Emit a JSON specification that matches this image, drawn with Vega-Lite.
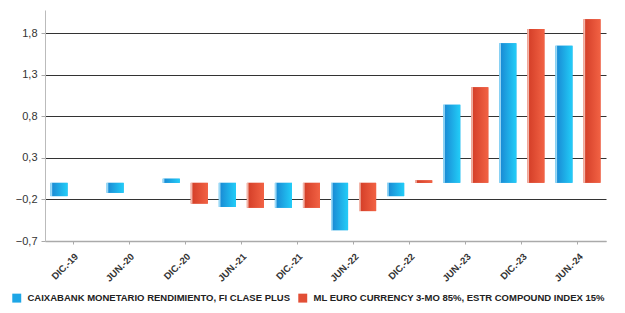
{
  "$schema": "https://vega.github.io/schema/vega-lite/v6.json",
  "autosize": {"type": "none"},
  "width": 561,
  "height": 231,
  "padding": {"left": 45, "top": 10, "right": 19, "bottom": 72},
  "background": "white",
  "data": {
    "values": [
      {"periodo": "DIC.-19", "serie": "CAIXABANK MONETARIO RENDIMIENTO, FI CLASE PLUS", "valor": -0.16},
      {"periodo": "JUN.-20", "serie": "CAIXABANK MONETARIO RENDIMIENTO, FI CLASE PLUS", "valor": -0.12},
      {"periodo": "DIC.-20", "serie": "CAIXABANK MONETARIO RENDIMIENTO, FI CLASE PLUS", "valor": 0.05},
      {"periodo": "DIC.-20", "serie": "ML EURO CURRENCY 3-MO 85%, ESTR COMPOUND INDEX 15%", "valor": -0.25},
      {"periodo": "JUN.-21", "serie": "CAIXABANK MONETARIO RENDIMIENTO, FI CLASE PLUS", "valor": -0.29},
      {"periodo": "JUN.-21", "serie": "ML EURO CURRENCY 3-MO 85%, ESTR COMPOUND INDEX 15%", "valor": -0.3},
      {"periodo": "DIC.-21", "serie": "CAIXABANK MONETARIO RENDIMIENTO, FI CLASE PLUS", "valor": -0.3},
      {"periodo": "DIC.-21", "serie": "ML EURO CURRENCY 3-MO 85%, ESTR COMPOUND INDEX 15%", "valor": -0.3},
      {"periodo": "JUN.-22", "serie": "CAIXABANK MONETARIO RENDIMIENTO, FI CLASE PLUS", "valor": -0.57},
      {"periodo": "JUN.-22", "serie": "ML EURO CURRENCY 3-MO 85%, ESTR COMPOUND INDEX 15%", "valor": -0.34},
      {"periodo": "DIC.-22", "serie": "CAIXABANK MONETARIO RENDIMIENTO, FI CLASE PLUS", "valor": -0.16},
      {"periodo": "DIC.-22", "serie": "ML EURO CURRENCY 3-MO 85%, ESTR COMPOUND INDEX 15%", "valor": 0.03},
      {"periodo": "JUN.-23", "serie": "CAIXABANK MONETARIO RENDIMIENTO, FI CLASE PLUS", "valor": 0.94},
      {"periodo": "JUN.-23", "serie": "ML EURO CURRENCY 3-MO 85%, ESTR COMPOUND INDEX 15%", "valor": 1.15},
      {"periodo": "DIC.-23", "serie": "CAIXABANK MONETARIO RENDIMIENTO, FI CLASE PLUS", "valor": 1.68},
      {"periodo": "DIC.-23", "serie": "ML EURO CURRENCY 3-MO 85%, ESTR COMPOUND INDEX 15%", "valor": 1.85},
      {"periodo": "JUN.-24", "serie": "CAIXABANK MONETARIO RENDIMIENTO, FI CLASE PLUS", "valor": 1.65},
      {"periodo": "JUN.-24", "serie": "ML EURO CURRENCY 3-MO 85%, ESTR COMPOUND INDEX 15%", "valor": 1.97}
    ]
  },
  "encoding": {
    "x": {
      "field": "periodo",
      "type": "nominal",
      "sort": null,
      "scale": {"paddingInner": 0, "paddingOuter": 0},
      "axis": {
        "title": null,
        "labelAngle": -45,
        "labelFont": "Liberation Sans",
        "labelFontSize": 9.5,
        "labelFontWeight": "bold",
        "labelColor": "#333333",
        "labelPadding": 7,
        "tickColor": "#aaaaaa",
        "tickSize": 3,
        "domainColor": "#aaaaaa",
        "domainWidth": 1.5,
        "grid": false
      }
    },
    "xOffset": {
      "field": "serie",
      "type": "nominal",
      "scale": {
        "domain": ["CAIXABANK MONETARIO RENDIMIENTO, FI CLASE PLUS", "ML EURO CURRENCY 3-MO 85%, ESTR COMPOUND INDEX 15%"],
        "paddingInner": 0.39,
        "paddingOuter": 0.195
      }
    },
    "y": {
      "field": "valor",
      "type": "quantitative",
      "scale": {"domain": [-0.7, 2.08], "nice": false, "zero": false},
      "axis": {
        "title": null,
        "values": [-0.7, -0.2, 0.3, 0.8, 1.3, 1.8],
        "labelExpr": "replace(format(datum.value, '.1f'), '.', ',')",
        "labelFont": "Liberation Sans",
        "labelFontSize": 11,
        "labelColor": "#333333",
        "labelPadding": 4,
        "tickColor": "#aaaaaa",
        "tickSize": 4,
        "domainColor": "#bbbbbb",
        "gridColor": {"condition": {"test": "datum.value < -0.6", "value": "#aaaaaa"}, "value": "#333333"},
        "gridWidth": 1.2
      }
    }
  },
  "layer": [
    {
      "mark": {"type": "bar"},
      "encoding": {
        "color": {
          "field": "serie",
          "type": "nominal",
          "scale": {
            "domain": ["CAIXABANK MONETARIO RENDIMIENTO, FI CLASE PLUS", "ML EURO CURRENCY 3-MO 85%, ESTR COMPOUND INDEX 15%"],
            "range": ["#1ea6e6", "#e24f36"]
          },
          "legend": {
            "title": null,
            "orient": "none",
            "direction": "horizontal",
            "legendX": -33,
            "legendY": 283,
            "symbolType": "square",
            "symbolSize": 80,
            "symbolStrokeWidth": 0,
            "symbolOpacity": 1,
            "labelFont": "Liberation Sans",
            "labelFontSize": 9.5,
            "labelFontWeight": "bold",
            "labelColor": "#222222",
            "labelLimit": 400,
            "columnPadding": 8,
            "labelOffset": 6
          }
        }
      }
    },
    {
      "transform": [{"filter": "indexof(datum.serie, 'CAIXA') == 0"}],
      "mark": {
        "type": "bar",
        "color": {"gradient": "linear", "x1": 0, "y1": 0, "x2": 1, "y2": 0, "stops": [{"offset": 0, "color": "#9ad8f6"}, {"offset": 0.07, "color": "#9ad8f6"}, {"offset": 0.13, "color": "#1a8ed6"}, {"offset": 1, "color": "#22cdf8"}]}
      }
    },
    {
      "transform": [{"filter": "indexof(datum.serie, 'ML EURO') == 0"}],
      "mark": {
        "type": "bar",
        "color": {"gradient": "linear", "x1": 0, "y1": 0, "x2": 1, "y2": 0, "stops": [{"offset": 0, "color": "#f2b6aa"}, {"offset": 0.07, "color": "#f2b6aa"}, {"offset": 0.13, "color": "#d6412a"}, {"offset": 1, "color": "#f26244"}]}
      }
    }
  ],
  "config": {"view": {"stroke": null}}
}
